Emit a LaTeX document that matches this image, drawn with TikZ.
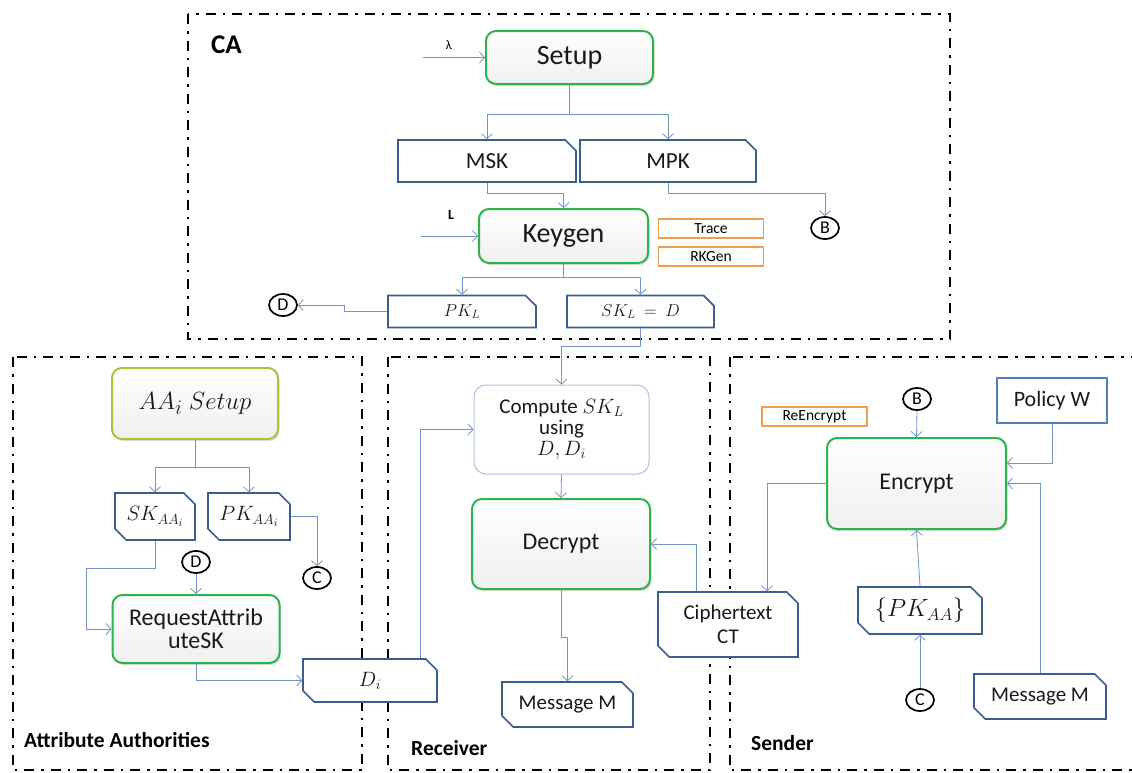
\documentclass[tikz,border=0pt]{standalone}
\usepackage{fontspec}
\setmainfont{Carlito}
\usetikzlibrary{arrows.meta,shapes.misc,shapes.geometric,shadows,calc}

\definecolor{flow}{HTML}{7394C9}
\definecolor{procgreen}{HTML}{2DB34E}
\definecolor{aagreen}{HTML}{A3C63A}
\definecolor{datablue}{HTML}{3A5F8F}
\definecolor{policyblue}{HTML}{5080BE}
\definecolor{opborder}{HTML}{F39A4C}
\definecolor{lightrim}{HTML}{A9C2E3}

\newcommand\fsz[2]{\fontsize{#1}{#2}\selectfont}

\begin{document}
\begin{tikzpicture}[x=1pt,y=-1pt,
  panelframe/.style={draw=black, line width=2.6pt, dash pattern=on 10pt off 7pt on 2.5pt off 7pt},
  procbox/.style={rounded corners=10pt, draw=procgreen, line width=2pt, top color=white, bottom color=gray!12,
    drop shadow={shadow xshift=1.5pt, shadow yshift=-2pt, opacity=0.25}, text=black!90, align=center, inner sep=2pt},
  databox/.style={chamfered rectangle, chamfered rectangle corners=north east, chamfered rectangle xsep=8pt,
    draw=datablue, line width=1.6pt, fill=white, inner sep=0pt, text=black!90, align=center},
  databoxtwo/.style={databox, chamfered rectangle corners={north east,south west}},
  opbox/.style={draw=opborder, line width=1.5pt, fill=white, inner sep=0pt, minimum width=105pt, minimum height=19pt,
    font=\fsz{15.5}{17}},
  flowline/.style={draw=flow, line width=0.8pt, -{Straight Barb[length=5pt,width=11pt]}},
  linkmark/.style={ellipse, draw=black, line width=1.7pt, inner sep=0pt, minimum width=28pt, minimum height=22pt,
    font=\fsz{18}{18}},
  paneltitle/.style={font=\bfseries\fsz{21.5}{25}, anchor=west, inner sep=0pt},
]
\clip (0,0) rectangle (1132,772);
\fill[white] (0,0) rectangle (1132,772);

% panels
\draw[panelframe] (188,14) rectangle (950,339);
\draw[panelframe] (13,357) rectangle (362,770);
\draw[panelframe] (388,357) rectangle (710,770);
\draw[panelframe] (730,357) rectangle (1145,770);

% ---------- CA ----------
\node[paneltitle, font=\bfseries\fsz{27}{30}] (catitle) at (211,45) {CA};
\node[procbox, minimum width=167pt, minimum height=53pt, font=\fsz{28}{30}] (setup) at (569.5,57.5) {Setup};
\node[databox, minimum width=178pt, minimum height=42pt, font=\fsz{23}{26}] (msk) at (487,161) {MSK};
\node[databox, minimum width=176pt, minimum height=42pt, font=\fsz{23}{26}] (mpk) at (668,161) {MPK};
\node[procbox, minimum width=169pt, minimum height=54pt, font=\fsz{28}{30}] (keygen) at (563.5,236) {Keygen};
\node[opbox] (trace) at (711,228.5) {Trace};
\node[opbox] (rkgen) at (711,256.5) {RKGen};
\node[linkmark] (bca) at (825,228) {B};
\node[databox, minimum width=148pt, minimum height=32pt, font=\fsz{17}{18}] (pkl) at (462,311.5) {$PK_L$};
\node[databox, minimum width=147pt, minimum height=32pt, font=\fsz{17}{18}] (skl) at (640.5,311.5) {$SK_L\ =\ D$};
\node[linkmark] (dca) at (283,305) {D};
\node[font=\fsz{13}{14}] (lam) at (449,45) {λ};
\node[font=\bfseries\fsz{14}{15}] (lbl) at (451,215) {L};
\coordinate (lamin) at (423,57.5);
\coordinate (lin) at (421,236);

\draw[flowline] (lamin) -- (setup.west);
\draw[flowline] (setup.south) -- ++(0,29) coordinate (sfork) -| (msk.north);
\draw[flowline] (sfork) -| (mpk.north);
\draw[flowline] (msk.south) -- ++(0,11) -| (keygen.north);
\draw[flowline] (mpk.south) -- ++(0,11) -| (bca.north);
\draw[flowline] (lin) -- (keygen.west);
\draw[flowline] (keygen.south) -- ++(0,13) coordinate (kfork) -| (pkl.north);
\draw[flowline] (kfork) -| (skl.north);
\draw[flowline] (pkl.west) -- ++(-43,0) |- (dca.east);

% ---------- Attribute Authorities ----------
\node[procbox, draw=aagreen, minimum width=166pt, minimum height=71pt, font=\fsz{28}{30}] (aasetup) at (195,403.5) {$AA_i\ Setup$};
\node[databoxtwo, minimum width=80pt, minimum height=47pt, font=\fsz{22}{24}] (skaa) at (155,516.5) {$SK_{AA_i}$};
\node[databoxtwo, minimum width=82pt, minimum height=47pt, font=\fsz{22}{24}] (pkaa) at (249,516.5) {$PK_{AA_i}$};
\node[linkmark] (daa) at (196,562) {D};
\node[linkmark] (caa) at (317,578) {C};
\node[procbox, minimum width=167pt, minimum height=68pt, font=\fsz{24}{23}] (req) at (196,629) {RequestAttrib\\uteSK};
\node[databoxtwo, minimum width=134pt, minimum height=43pt, font=\fsz{21}{24}] (di) at (370,680.5) {$D_i$};

\draw[flowline] (aasetup.south) -- ++(0,27) coordinate (afork) -| (skaa.north);
\draw[flowline] (afork) -| (pkaa.north);
\draw[flowline] (pkaa.east) -| (caa.north);
\draw[flowline] (daa.south) -- (req.north);
\draw[flowline] (skaa.south) |- (86,568) |- (req.west);
\draw[flowline] (req.south) |- (di.west);

\node[paneltitle] (aatitle) at (24,740) {Attribute Authorities};

% ---------- Receiver ----------
\node[draw=lightrim, line width=1pt, rounded corners=12pt, fill=white, minimum width=175pt, minimum height=89pt,
  align=center, font=\fsz{21}{21}, text=black!90] (compute) at (561.5,429.5) {Compute $SK_L$\\using\\$D, D_i$};
\node[procbox, minimum width=178pt, minimum height=90pt, font=\fsz{24}{26}] (decrypt) at (561,544) {Decrypt};
\node[databoxtwo, minimum width=131pt, minimum height=45pt, font=\fsz{21}{24}] (msgr) at (567.5,704.5) {Message M};
\node[databoxtwo, minimum width=140pt, minimum height=65pt, font=\fsz{21}{24}] (cipher) at (728,624.5) {Ciphertext\\CT};

\draw[flowline] (skl.south) -- ++(0,18) -| (compute.north);
\draw[flowline] ($(di.north)+(50,0)$) |- (compute.west);
\draw[flowline] (compute.south) -- (decrypt.north);
\draw[flowline] (decrypt.south) -- ++(0,47) -| (msgr.north);
\draw[flowline] ($(cipher.north)+(-32,0)$) |- (decrypt.east);

\node[paneltitle] (rtitle) at (411,748) {Receiver};

% ---------- Sender ----------
\node[linkmark] (bs) at (917,399) {B};
\node[opbox] (reenc) at (814.5,416.5) {ReEncrypt};
\node[draw=policyblue, line width=1.6pt, fill=white, minimum width=110pt, minimum height=45pt, font=\fsz{22}{24},
  text=black!90] (policy) at (1052,400.5) {Policy W};
\node[procbox, minimum width=179pt, minimum height=91pt, font=\fsz{24}{26}] (encrypt) at (916.5,483.5) {Encrypt};
\node[databoxtwo, minimum width=132pt, minimum height=45pt, font=\fsz{21}{24}] (msgs) at (1040,696.5) {Message M};
\node[databoxtwo, minimum width=124pt, minimum height=47pt, font=\fsz{23}{26}] (pkaaall) at (920,610.5) {$\{PK_{AA}\}$};
\node[linkmark] (cs) at (920,700) {C};

\draw[flowline] (bs.south) -- (encrypt.north);
\draw[flowline] (policy.south) |- ($(encrypt.east)+(0,-20.5)$);
\draw[flowline] (msgs.north) |- (encrypt.east);
\draw[flowline] (encrypt.west) -| ($(cipher.north)+(39,0)$);
\draw[flowline] (pkaaall.north) -- (encrypt.south);
\draw[flowline] (cs.north) -- (pkaaall.south);

\node[paneltitle] (stitle) at (751,743) {Sender};
\end{tikzpicture}
\end{document}
